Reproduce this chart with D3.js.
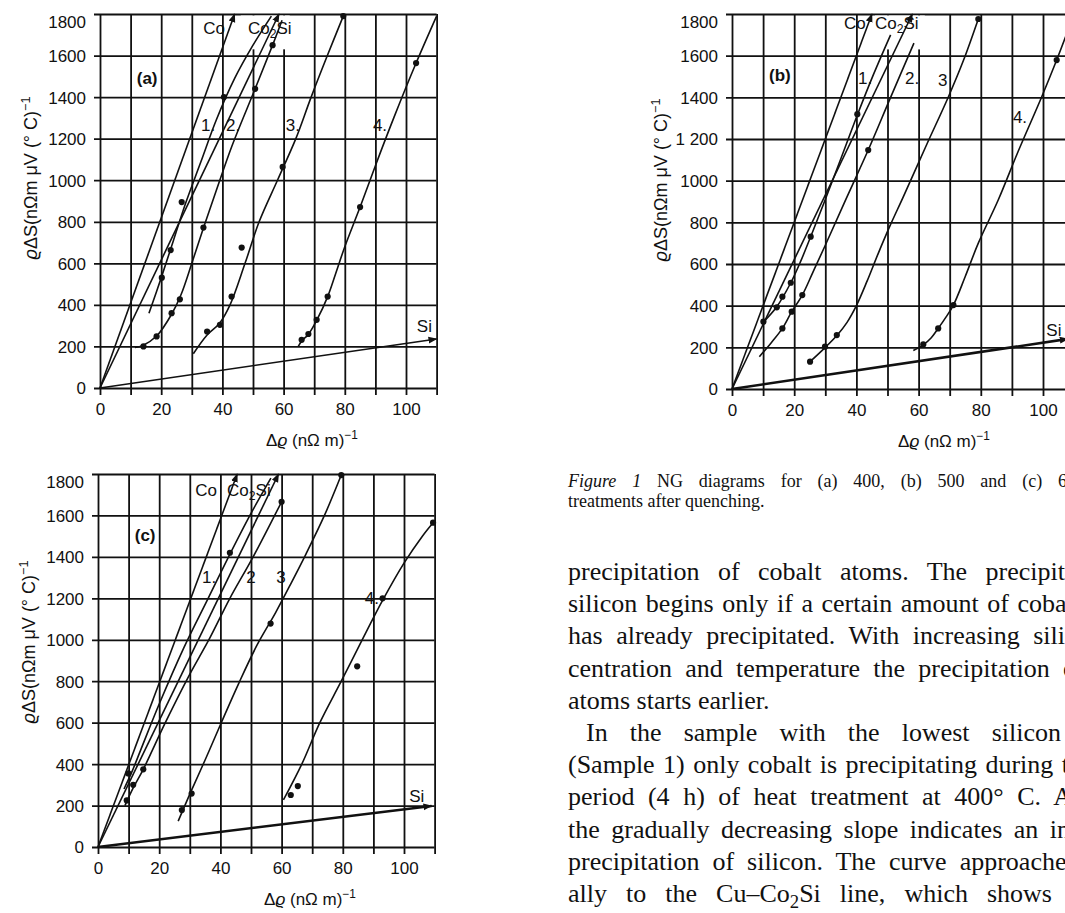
<!DOCTYPE html>
<html><head><meta charset="utf-8">
<script src="https://cdn.jsdelivr.net/npm/d3@7"></script>
<style>
html,body{margin:0;padding:0;background:#fff;}
svg{display:block;}
</style></head><body>
<svg id="fig" width="1065" height="913"></svg>
<script>
// ---------------- DATA ----------------
const gridXTicks = [0,10,20,30,40,50,60,70,80,90,100,110];
const xLabelTicks = [0,20,40,60,80,100];
const yTicks = [0,200,400,600,800,1000,1200,1400,1600,1800];
const yTickLabels = ["0","200","400","600","800","1000","1200","1400","1600","1800"];
const yTickLabelsB = ["0","200","400","600","800","1000","1 200","1400","1600","1800"];

// panel (a) 400 °C
const coA = [[0,0],[44,1800]];
const co2siA = [[0,0],[58.5,1800]];
const siA = [[0,0],[110,236]];
const curve1A = [[16,360],[20,530],[24,710],[28,890],[33,1090],[38,1290],[44,1490],[50,1650],[56,1790]];
const curve2A = [[11.4,195],[14,205],[18.5,250],[23.4,355],[26.5,450],[30,600],[33.8,770],[38,950],[43,1160],[50.7,1440],[56.4,1650],[59.5,1770]];
const curve3A = [[30.5,165],[35,255],[39,310],[42.5,400],[47.4,600],[52,800],[58,1000],[64,1200],[69,1400],[74.3,1600],[79.5,1790]];
const curve4A = [[64.8,200],[66,228],[68.1,258],[70.8,325],[74.4,440],[77,550],[80,680],[85,871],[90,1070],[96,1300],[103.3,1564],[110,1790]];
const dotsA = [[20.2,531],[23.1,664],[26.7,895],[40.5,1400],[14.2,200],[18.5,248],[23.4,360],[26.1,427],[33.8,772],[50.7,1440],[56.4,1650],[35,272],[39.2,304],[43,440],[46.3,676],[59.7,1064],[79.5,1790],[65.9,232],[68.1,260],[70.8,328],[74.4,440],[85,871],[103.3,1564]];

// panel (b) 500 °C
const coB = [[0,0],[45,1800]];
const co2siB = [[0,0],[58,1800]];
const siB = [[0,0],[108,240]];
const curve1B = [[10,320],[14.4,395],[18.9,510],[22,610],[25.3,731],[30,910],[35,1105],[40.3,1315],[45.5,1510],[51,1700]];
const curve2B = [[8.8,155],[12.5,220],[16.2,291],[19.2,371],[22.6,451],[26,560],[30,690],[36,890],[43.8,1147],[51,1400],[58.5,1660]];
const curve3B = [[25,130],[30,200],[34,262],[37,320],[40,400],[43.5,520],[47,650],[51,790],[55,920],[62.5,1170],[69.6,1403],[74.5,1580],[79.2,1776]];
const curve4B = [[58.3,185],[61.5,212],[64,245],[66.3,291],[68.8,345],[71.2,403],[75,540],[79.2,700],[85.6,907],[92,1140],[99.6,1403],[104.4,1579],[107.5,1700]];
const dotsB = [[10.1,323],[14.4,392],[16.2,443],[18.9,510],[25.3,731],[40.3,1319],[16.2,291],[19.2,371],[22.6,451],[43.8,1147],[25.1,131],[29.9,203],[33.7,259],[79.2,1776],[61.5,214],[66.3,291],[71.2,403],[104.4,1579]];

// panel (c) 600 °C
const coC = [[0,0],[45.5,1800]];
const co2siC = [[0,0],[59,1800]];
const siC = [[0,0],[109,198]];
const curve1C = [[8.5,280],[11,360],[14,470],[20,690],[28,960],[36,1200],[43,1410],[50,1610],[56.5,1780]];
const curve2C = [[8.8,200],[11.5,285],[14.8,375],[22,600],[29.5,820],[36.6,1010],[43.1,1200],[50.7,1400],[60,1666]];
const curve3C = [[26.2,125],[30,255],[35,420],[40,590],[46,790],[52,975],[58,1130],[63,1270],[68,1415],[74,1600],[79.5,1795]];
const curve4C = [[60.6,227],[66.6,400],[72.5,600],[79.5,800],[86,990],[93,1190],[100,1370],[106,1500],[109.5,1565]];
const dotsC = [[9.4,225],[9.9,355],[11.5,300],[14.8,375],[43.1,1420],[60,1666],[27.4,178],[30.6,258],[56.4,1078],[79.5,1795],[63,251],[65.3,294],[84.7,872],[93,1200],[109.5,1565]];

// text
const yTitle = "ϱΔS(nΩm μV (° C)⁻¹";
const xTitle = "Δϱ (nΩ m)⁻¹";
const captionLead = "Figure 1";
const captionLine1 = "NG diagrams for (a) 400, (b) 500 and (c) 6";
const captionLine2 = "treatments after quenching.";
const bodyLines = [
  "precipitation of cobalt atoms. The precipit",
  "silicon begins only if a certain amount of coba",
  "has already precipitated. With increasing sili",
  "centration and temperature the precipitation o",
  "atoms starts earlier.",
  "In the sample with the lowest silicon",
  "(Sample 1) only cobalt is precipitating during t",
  "period (4 h) of heat treatment at 400° C. A",
  "the gradually decreasing slope indicates an in",
  "precipitation of silicon. The curve approache",
  "ally to the Cu–Co₂Si line, which shows"
];

// ---------------- DRAWING ----------------
const INK = "#111";
const SANS = "'Liberation Sans', Arial, sans-serif";
const SERIF = "'Liberation Serif', 'Times New Roman', serif";
const svg = d3.select('#fig');
svg.append('rect').attr('width',1065).attr('height',913).attr('fill','#fff');

svg.append('defs').append('marker')
  .attr('id','arr').attr('viewBox','0 0 10 10').attr('refX',9).attr('refY',5)
  .attr('markerWidth',9).attr('markerHeight',9).attr('markerUnits','userSpaceOnUse')
  .attr('orient','auto')
  .append('path').attr('d','M0,1.2 L10,5 L0,8.8 z').attr('fill',INK);

function rich(t, str) {
  const parts = str.split(/(₂|⁻¹|ϱ)/);
  let shift = 0;
  parts.forEach(p => {
    if (!p) return;
    if (p === '₂') {
      t.append('tspan').attr('dy','0.3em').attr('font-size','72%').text('2');
      shift = -0.3*0.72;
    } else if (p === '⁻¹') {
      t.append('tspan').attr('dy','-0.55em').attr('font-size','70%').text('−1');
      shift = 0;
    } else if (p === 'ϱ') {
      const s = t.append('tspan').attr('font-style','italic').text('ϱ');
      if (shift) { s.attr('dy', (-shift/0.72*0.72) + 'em'); shift = 0; }
    } else {
      const s = t.append('tspan').text(p);
      if (shift) { s.attr('dy','0.3em'); s.attr('dy', null); s.attr('dy','-0.216em'); shift = 0; }
    }
  });
}

const panels = [
  {left:100, kx:3.06, bottom:388, top:14, yLabels:yTickLabels, co:coA, co2si:co2siA, si:siA, siW:1.6,
   curves:[curve1A,curve2A,curve3A,curve4A], dots:dotsA, mask:true,
   yTitlePos:[31,178],
   labels:[["(a)",15.4,1492,true],["Co",37.3,1732],["Co₂Si",55.5,1732],["1.",35.3,1266],["2.",43.5,1266],["3.",63,1266],["4.",91.5,1266],["Si",106,300]]},
  {left:732, kx:3.11, bottom:389, top:14, yLabels:yTickLabelsB, co:coB, co2si:co2siB, si:siB, siW:2.6,
   curves:[curve1B,curve2B,curve3B,curve4B], dots:dotsB, mask:true,
   yTitlePos:[661,180],
   labels:[["(b)",15.4,1507,true],["Co",39.5,1757],["Co₂Si",53,1757],["1.",42.8,1493],["2.",57.9,1493],["3",67.8,1483],["4.",92.6,1306],["Si",103.5,283]]},
  {left:98, kx:3.06, bottom:847, top:474, yLabels:yTickLabels, co:coC, co2si:co2siC, si:siC, siW:2.6,
   curves:[curve1C,curve2C,curve3C,curve4C], dots:dotsC, mask:false,
   yTitlePos:[29,642],
   labels:[["(c)",15.4,1506,true],["Co",35.3,1723],["Co₂Si",49.3,1723],["1.",36.3,1303],["2",50,1303],["3",59.8,1303],["4.",89.5,1200],["Si",104.2,246]]}
];

panels.forEach(p => {
  const g = svg.append('g');
  const x = d3.scaleLinear().domain([0,110]).range([p.left, p.left + 110*p.kx]);
  const y = d3.scaleLinear().domain([0,1800]).range([p.bottom, p.top]);
  const w = x(110) - x(0), h = y(0) - y(1800);

  // vertical grid + x tick labels
  const gx = g.append('g').attr('transform', `translate(0,${y(0)})`)
    .call(d3.axisBottom(x).tickValues(gridXTicks).tickSize(-h).tickSizeOuter(0)
      .tickFormat(d => xLabelTicks.includes(d) ? String(d) : ''));
  gx.select('.domain').remove();
  gx.attr('font-family', SANS).attr('font-size', 17);
  gx.selectAll('.tick line').attr('y1', 7).attr('stroke', INK).attr('stroke-width', 1.8);
  gx.selectAll('.tick text').attr('y', 21).attr('dy', '0.35em').attr('fill', INK);

  // horizontal grid + y tick labels
  const gy = g.append('g').attr('transform', `translate(${x(0)},0)`)
    .call(d3.axisLeft(y).tickValues(yTicks).tickSize(-w).tickSizeOuter(0)
      .tickFormat((d,i) => p.yLabels[i]));
  gy.select('.domain').remove();
  gy.attr('font-family', SANS).attr('font-size', 17);
  gy.selectAll('.tick line').attr('x1', -6).attr('stroke', INK).attr('stroke-width', 1.8);
  gy.selectAll('.tick text').attr('x', -14).attr('dy', '0.35em').attr('fill', INK)
    .attr('y', d => d === 1800 ? 8 : 0);

  // white area behind the Co2Si label (grid interrupted there)
  if (p.mask) {
    g.append('rect').attr('x', x(46)).attr('y', y(1800) + 1.5)
      .attr('width', x(62) - x(46)).attr('height', y(1630) - y(1800) - 1.5).attr('fill', '#fff');
  }

  const line = d3.line().x(d => x(d[0])).y(d => y(d[1]));
  const curve = d3.line().x(d => x(d[0])).y(d => y(d[1])).curve(d3.curveCatmullRom.alpha(0.5));

  [p.co, p.co2si].forEach(s => {
    g.append('path').attr('d', line(s)).attr('fill','none').attr('stroke',INK)
      .attr('stroke-width',1.6).attr('marker-end','url(#arr)');
  });
  g.append('path').attr('d', line(p.si)).attr('fill','none').attr('stroke',INK)
    .attr('stroke-width',p.siW).attr('marker-end','url(#arr)');

  p.curves.forEach(c => {
    g.append('path').attr('d', curve(c)).attr('fill','none').attr('stroke',INK).attr('stroke-width',1.6);
  });

  g.selectAll('circle.pt').data(p.dots).join('circle').attr('class','pt')
    .attr('cx', d => x(d[0])).attr('cy', d => y(d[1])).attr('r', 3.1).attr('fill', INK);

  // labels
  p.labels.forEach(l => {
    const t = g.append('text').attr('x', x(l[1])).attr('y', y(l[2])).attr('dy','0.35em')
      .attr('text-anchor','middle').attr('font-family',SANS).attr('font-size',17).attr('fill',INK);
    if (l[3]) t.attr('font-weight','bold');
    rich(t, l[0]);
  });

  // axis titles
  const xt = g.append('text').attr('x', x(0) + 212).attr('y', y(0) + 58)
    .attr('text-anchor','middle').attr('font-family',SANS).attr('font-size',17).attr('fill',INK);
  rich(xt, xTitle);
  const yt = g.append('text').attr('transform', `translate(${p.yTitlePos[0]+6},${p.yTitlePos[1]}) rotate(-90)`)
    .attr('text-anchor','middle').attr('font-family',SANS).attr('font-size',18).attr('fill',INK);
  rich(yt, yTitle);
});

// ---------------- CAPTION & BODY TEXT ----------------
const LEFT = 568;
function justify(t, target, x0) {
  const natural = t.node().getComputedTextLength();
  const str = t.text();
  const n = (str.match(/ /g) || []).length;
  if (n > 0) t.attr('word-spacing', ((target - x0 - natural) / n).toFixed(2));
}

const cap1 = svg.append('text').attr('x', LEFT).attr('y', 487)
  .attr('font-family', SERIF).attr('font-size', 18).attr('fill', INK);
cap1.append('tspan').attr('font-style','italic').text(captionLead);
cap1.append('tspan').text(' ' + captionLine1);
justify(cap1, 1067, LEFT);
svg.append('text').attr('x', LEFT).attr('y', 507)
  .attr('font-family', SERIF).attr('font-size', 18).attr('fill', INK).text(captionLine2);

const bodyTargets = [1065, 1066.5, 1065, 1076, null, 1061, 1069, 1072, 1070, 1066.5, 1052];
bodyLines.forEach((s, i) => {
  const x0 = i === 5 ? LEFT + 18 : LEFT;
  const t = svg.append('text').attr('x', x0).attr('y', 580 + i * 32.2)
    .attr('font-family', SERIF).attr('font-size', 26).attr('fill', INK);
  rich(t, s);
  if (bodyTargets[i]) justify(t, bodyTargets[i], x0);
});
</script></body></html>
